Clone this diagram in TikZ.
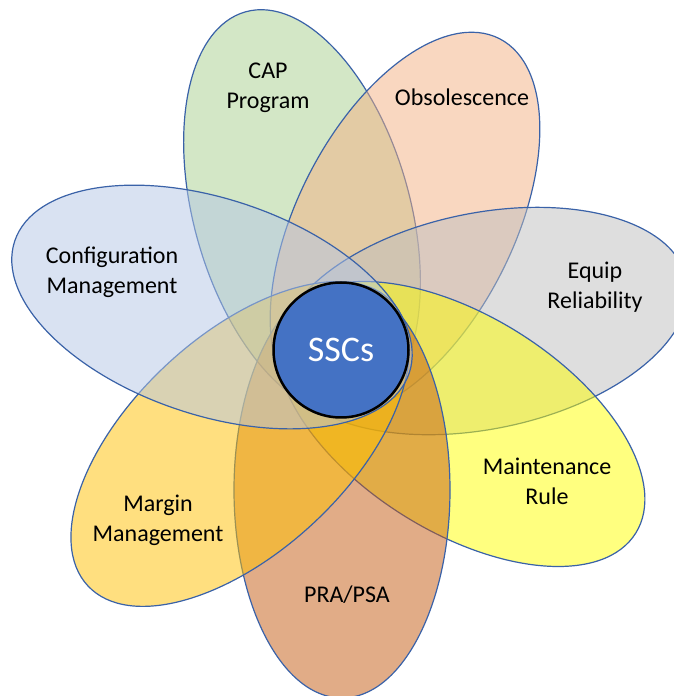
\documentclass[tikz,border=0pt]{standalone}
\usepackage{fontspec}
\setmainfont{Carlito}
\definecolor{edgeblue}{HTML}{3A62A8}
\definecolor{capgreen}{HTML}{A9D18E}
\definecolor{obspeach}{HTML}{F4B183}
\definecolor{eqgrey}{HTML}{BFBFBF}
\definecolor{mryellow}{HTML}{FFFF00}
\definecolor{prabrown}{HTML}{C55A11}
\definecolor{mmgold}{HTML}{FFC000}
\definecolor{cmblue}{HTML}{B4C7E7}
\definecolor{sscblue}{HTML}{4472C4}
\tikzset{x=1pt, y=1pt,
  petal/.style={draw=edgeblue, line width=1.2pt, fill opacity=0.5},
  every node/.style={font=\fontsize{24}{30}\selectfont, align=center, text=black}}

\begin{document}
\begin{tikzpicture}
  \path[fill=white, use as bounding box] (0,0) rectangle (674,696);

  \coordinate (cap) at (302,484);
  \coordinate (obs) at (405,472);
  \coordinate (eq)  at (483,375);
  \coordinate (mr)  at (461,272);
  \coordinate (pra) at (342,206);
  \coordinate (mm)  at (240,252);
  \coordinate (cm)  at (212,389);

  \filldraw[petal, fill=capgreen, rotate around={105.8:(cap)}] (cap) ellipse [x radius=208pt, y radius=108pt];
  \filldraw[petal, fill=obspeach, rotate around={63:(obs)}]    (obs) ellipse [x radius=208pt, y radius=108pt];
  \filldraw[petal, fill=eqgrey,   rotate around={11.5:(eq)}]   (eq)  ellipse [x radius=208pt, y radius=108pt];
  \filldraw[petal, fill=mryellow, rotate around={-32:(mr)}]    (mr)  ellipse [x radius=206pt, y radius=108pt];
  \filldraw[petal, fill=prabrown, rotate around={90:(pra)}]    (pra) ellipse [x radius=208pt, y radius=108pt];
  \filldraw[petal, fill=mmgold,   rotate around={43:(mm)}]     (mm)  ellipse [x radius=208pt, y radius=108pt];
  \filldraw[petal, fill=cmblue,   rotate around={-18.5:(cm)}]  (cm)  ellipse [x radius=208pt, y radius=108pt];

  \node[circle, draw=black, line width=2.5pt, fill=sscblue, minimum size=135pt, inner sep=0pt,
        text=white, font=\fontsize{36}{43}\selectfont] (ssc) at (341,346) {SSCs};

  \node (capl) at (268,608) {CAP\\Program};
  \node (obsl) at (462,599) {Obsolescence};
  \node (cml)  at (112,424) {Configuration\\Management};
  \node (eql)  at (595,409) {Equip\\Reliability};
  \node (mrl)  at (547,215) {Maintenance\\Rule};
  \node (mml)  at (158,176) {Margin\\Management};
  \node (pral) at (347,101) {PRA/PSA};
\end{tikzpicture}
\end{document}
